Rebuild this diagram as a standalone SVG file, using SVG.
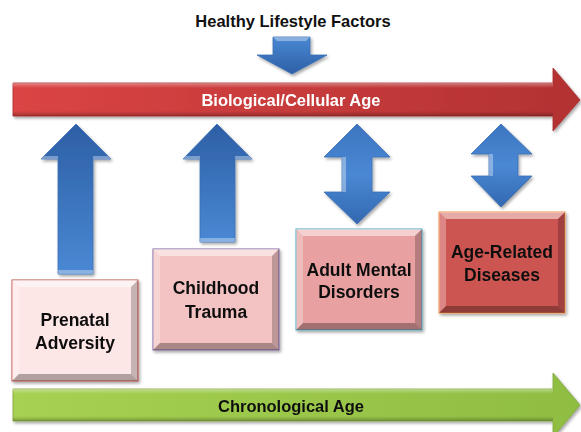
<svg xmlns="http://www.w3.org/2000/svg" width="581" height="432" viewBox="0 0 581 432">
<style>
text{font-family:"Liberation Sans",Arial,sans-serif;font-weight:bold;font-size:16.5px;text-anchor:middle}
.lbl{fill:#111}
.bx{font-size:17.5px}
.blue{fill:url(#gBlue);stroke:#3a6fb5;stroke-width:0.8}
.hiL{fill:#ffffff;opacity:0.35}
</style>
<defs>
<linearGradient id="gRed" x1="0" y1="0" x2="1" y2="0">
<stop offset="0" stop-color="#db4444"/><stop offset="1" stop-color="#b33232"/>
</linearGradient>
<linearGradient id="gRedV" x1="0" y1="0" x2="0" y2="1">
<stop offset="0" stop-color="#ffffff" stop-opacity="0.35"/><stop offset="0.15" stop-color="#ffffff" stop-opacity="0"/><stop offset="0.85" stop-color="#000000" stop-opacity="0"/><stop offset="1" stop-color="#000000" stop-opacity="0.25"/>
</linearGradient>
<linearGradient id="gGreen" x1="0" y1="0" x2="1" y2="0">
<stop offset="0" stop-color="#a6d152"/><stop offset="1" stop-color="#8fbd42"/>
</linearGradient>
<linearGradient id="gBlue" x1="0" y1="0" x2="0" y2="1">
<stop offset="0" stop-color="#2d5fa5"/><stop offset="1" stop-color="#4a88d4"/>
</linearGradient>
<linearGradient id="gBlueD" x1="0" y1="0" x2="0" y2="1">
<stop offset="0" stop-color="#4a88d4"/><stop offset="1" stop-color="#2d5fa5"/>
</linearGradient>
<linearGradient id="gBlueDbl" x1="0" y1="0" x2="0" y2="1">
<stop offset="0" stop-color="#3c75c0"/><stop offset="0.5" stop-color="#4a88d4"/><stop offset="1" stop-color="#3368b0"/>
</linearGradient>
<filter id="sh" x="-10%" y="-10%" width="130%" height="130%">
<feDropShadow dx="1.5" dy="2" stdDeviation="1.5" flood-color="#000" flood-opacity="0.35"/>
</filter>
<g id="bevel">
<polygon points="0,0 126,0 119,7 7,7" fill="#fff" opacity="0.5"/>
<polygon points="0,0 7,7 7,94 0,101" fill="#fff" opacity="0.3"/>
<polygon points="0,101 7,94 119,94 126,101" fill="#000" opacity="0.3"/>
<polygon points="126,0 126,101 119,94 119,7" fill="#000" opacity="0.22"/>
</g>
</defs>

<text x="293" y="27" class="lbl" id="title">Healthy Lifestyle Factors</text>

<g id="bio-age" filter="url(#sh)">
<polygon points="13,83 553,83 553,68 580,100 553,131 553,116 13,116" fill="url(#gRed)" stroke="#a82c2c" stroke-width="0.8"/>
<rect x="13" y="83" width="540" height="33" fill="url(#gRedV)"/>
<text x="291" y="106" fill="#ffffff">Biological/Cellular Age</text>
</g>

<g id="chrono-age" filter="url(#sh)">
<polygon points="13,389 553,389 553,373 580,405 553,437 553,421 13,421" fill="url(#gGreen)" stroke="#7ea53a" stroke-width="0.8"/>
<rect x="13" y="389" width="540" height="32" fill="url(#gRedV)"/>
<text x="291" y="412" class="lbl">Chronological Age</text>
</g>

<g id="connectors" filter="url(#sh)">
<g id="arrow-lifestyle">
<polygon points="273,37 310,37 310,55 327,55 292,74 257,55 273,55" fill="url(#gBlueD)" stroke="#3a6fb5" stroke-width="0.8"/>
<polygon points="273,37 310,37 306,41 277,41" class="hiL"/>
</g>
<g id="arrow-prenatal">
<polygon points="76,124 111,159 93,159 93,274 58,274 58,159 41,159" class="blue"/>
<polygon points="58,270 93,270 93,274 58,274" class="hiL"/>
<polygon points="41,159 58,159 58,156 44,156" class="hiL"/>
<polygon points="93,159 111,159 108,156 93,156" class="hiL"/>
</g>
<g id="arrow-childhood">
<polygon points="217,124 252,159 235,159 235,242 200,242 200,159 183,159" class="blue"/>
<polygon points="200,238 235,238 235,242 200,242" class="hiL"/>
<polygon points="183,159 200,159 200,156 186,156" class="hiL"/>
<polygon points="235,159 252,159 249,156 235,156" class="hiL"/>
</g>
<g id="arrow-adult">
<polygon points="357,124 390,157 372,157 372,192 390,192 357,224 324,192 342,192 342,157 324,157" fill="url(#gBlueDbl)" stroke="#3a6fb5" stroke-width="0.8"/>
<polygon points="342,157 346,157 346,192 342,192" class="hiL"/>
</g>
<g id="arrow-disease">
<polygon points="501,124 532,154 518,154 518,176 532,176 501,207 471,176 489,176 489,154 471,154" fill="url(#gBlueDbl)" stroke="#3a6fb5" stroke-width="0.8"/>
<polygon points="489,154 493,154 493,176 489,176" class="hiL"/>
</g>
</g>

<g id="box-prenatal" transform="translate(12,280)" filter="url(#sh)">
<rect width="126" height="101" fill="#fde6e6" stroke="#c0504d" stroke-width="1"/>
<use href="#bevel"/>
<text x="63" y="46" class="lbl bx">Prenatal</text>
<text x="63" y="69" class="lbl bx">Adversity</text>
</g>

<g id="box-childhood" transform="translate(153,249)" filter="url(#sh)">
<rect width="126" height="101" fill="#f3c2c2" stroke="#8064a2" stroke-width="1"/>
<use href="#bevel"/>
<text x="63" y="45" class="lbl bx">Childhood</text>
<text x="63" y="69" class="lbl bx">Trauma</text>
</g>

<g id="box-adult" transform="translate(296,229)" filter="url(#sh)">
<rect width="126" height="101" fill="#e8a0a0" stroke="#4bacc6" stroke-width="1"/>
<use href="#bevel"/>
<text x="63" y="47" class="lbl bx">Adult Mental</text>
<text x="63" y="69" class="lbl bx">Disorders</text>
</g>

<g id="box-disease" transform="translate(439,212)" filter="url(#sh)">
<rect width="126" height="101" fill="#cd5451" stroke="#f79646" stroke-width="1"/>
<use href="#bevel"/>
<text x="63" y="46" class="lbl bx">Age-Related</text>
<text x="63" y="69" class="lbl bx">Diseases</text>
</g>
</svg>
